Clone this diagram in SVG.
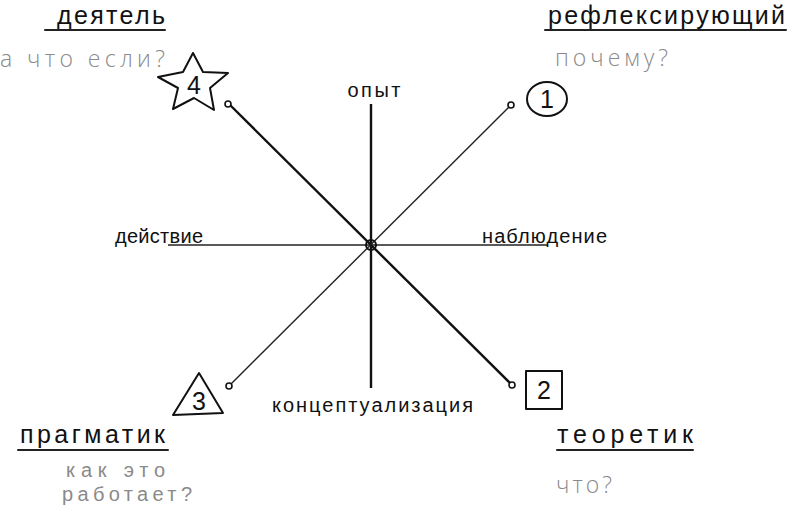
<svg xmlns="http://www.w3.org/2000/svg" width="790" height="508" viewBox="0 0 790 508">
<style>
.title{font-family:"Liberation Sans","DejaVu Sans",sans-serif;font-size:25px;fill:#111;}
.sub{font-family:"Open Sans","Liberation Sans",sans-serif;font-weight:300;font-size:23px;fill:#8a8a8a;}
.sub2{font-family:"Liberation Sans","DejaVu Sans",sans-serif;font-size:20px;fill:#8a8a8a;}
.ax{font-family:"Liberation Sans","DejaVu Sans",sans-serif;font-size:20px;fill:#111;}
.ul{stroke:#222;stroke-width:2;fill:none;stroke-linecap:round;}
.thin{stroke:#222;stroke-width:1.4;fill:none;}
.thick{stroke:#111;stroke-width:2.4;fill:none;}
.dot{stroke:#111;stroke-width:1.6;fill:#fff;}
.hub{stroke:#111;stroke-width:2;fill:none;}
.shape{stroke:#111;stroke-width:2;fill:#fff;stroke-linejoin:round;}
.num{font-family:"Liberation Sans","DejaVu Sans",sans-serif;font-weight:300;font-size:25px;fill:#111;text-anchor:middle;}
</style>
<g id="connectors">
<line class="thin" x1="168" y1="245" x2="548" y2="245"/>
<line class="thick" x1="371" y1="104" x2="371" y2="388"/>
<line class="thick" x1="229" y1="104" x2="512" y2="385"/>
<line class="thin" x1="511" y1="105" x2="229" y2="386"/>
<circle class="hub" cx="371" cy="245" r="5"/>
<circle class="dot" cx="228" cy="104" r="3"/>
<circle class="dot" cx="511" cy="105" r="3"/>
<circle class="dot" cx="229" cy="386" r="3"/>
<circle class="dot" cx="512" cy="385" r="3"/>
</g>
<g id="axis-top"><text class="ax" x="374" y="97" text-anchor="middle" textLength="53">опыт</text></g>
<g id="axis-left"><text class="ax" x="115" y="243" textLength="88">действие</text></g>
<g id="axis-right"><text class="ax" x="482" y="243" textLength="125">наблюдение</text></g>
<g id="axis-bottom"><text class="ax" x="272" y="412" textLength="201">концептуализация</text></g>
<g id="node-4">
<polygon class="shape" points="193,53 203,72 228,73 210,88 214,110 194,98 173,109 178,88 158,77 183,72"/>
<text class="num" x="194" y="94">4</text>
</g>
<g id="node-1">
<ellipse class="shape" cx="547" cy="99" rx="20" ry="17"/>
<text class="num" x="547" y="108">1</text>
</g>
<g id="node-3">
<polygon class="shape" points="199,373 223,413 173,415"/>
<text class="num" x="199" y="410">3</text>
</g>
<g id="node-2">
<rect class="shape" x="526" y="371" width="36" height="38"/>
<text class="num" x="544" y="399">2</text>
</g>
<g id="activist">
<text class="title" x="57" y="24" textLength="108">деятель</text>
<line class="ul" x1="45" y1="30" x2="165" y2="30"/>
<text class="sub" x="0" y="67" textLength="165">а что если?</text>
</g>
<g id="reflector">
<text class="title" x="548" y="24" textLength="237">рефлексирующий</text>
<line class="ul" x1="545" y1="30" x2="786" y2="30"/>
<text class="sub" x="555" y="66" textLength="113">почему?</text>
</g>
<g id="pragmatist">
<text class="title" x="20" y="443" textLength="145">прагматик</text>
<line class="ul" x1="18" y1="450" x2="168" y2="450"/>
<text class="sub2" x="66" y="477" textLength="99">как это</text>
<text class="sub2" x="62" y="501" textLength="130">работает?</text>
</g>
<g id="theorist">
<text class="title" x="557" y="443" textLength="136">теоретик</text>
<line class="ul" x1="557" y1="450" x2="693" y2="450"/>
<text class="sub" x="556" y="493" textLength="56">что?</text>
</g>
</svg>
